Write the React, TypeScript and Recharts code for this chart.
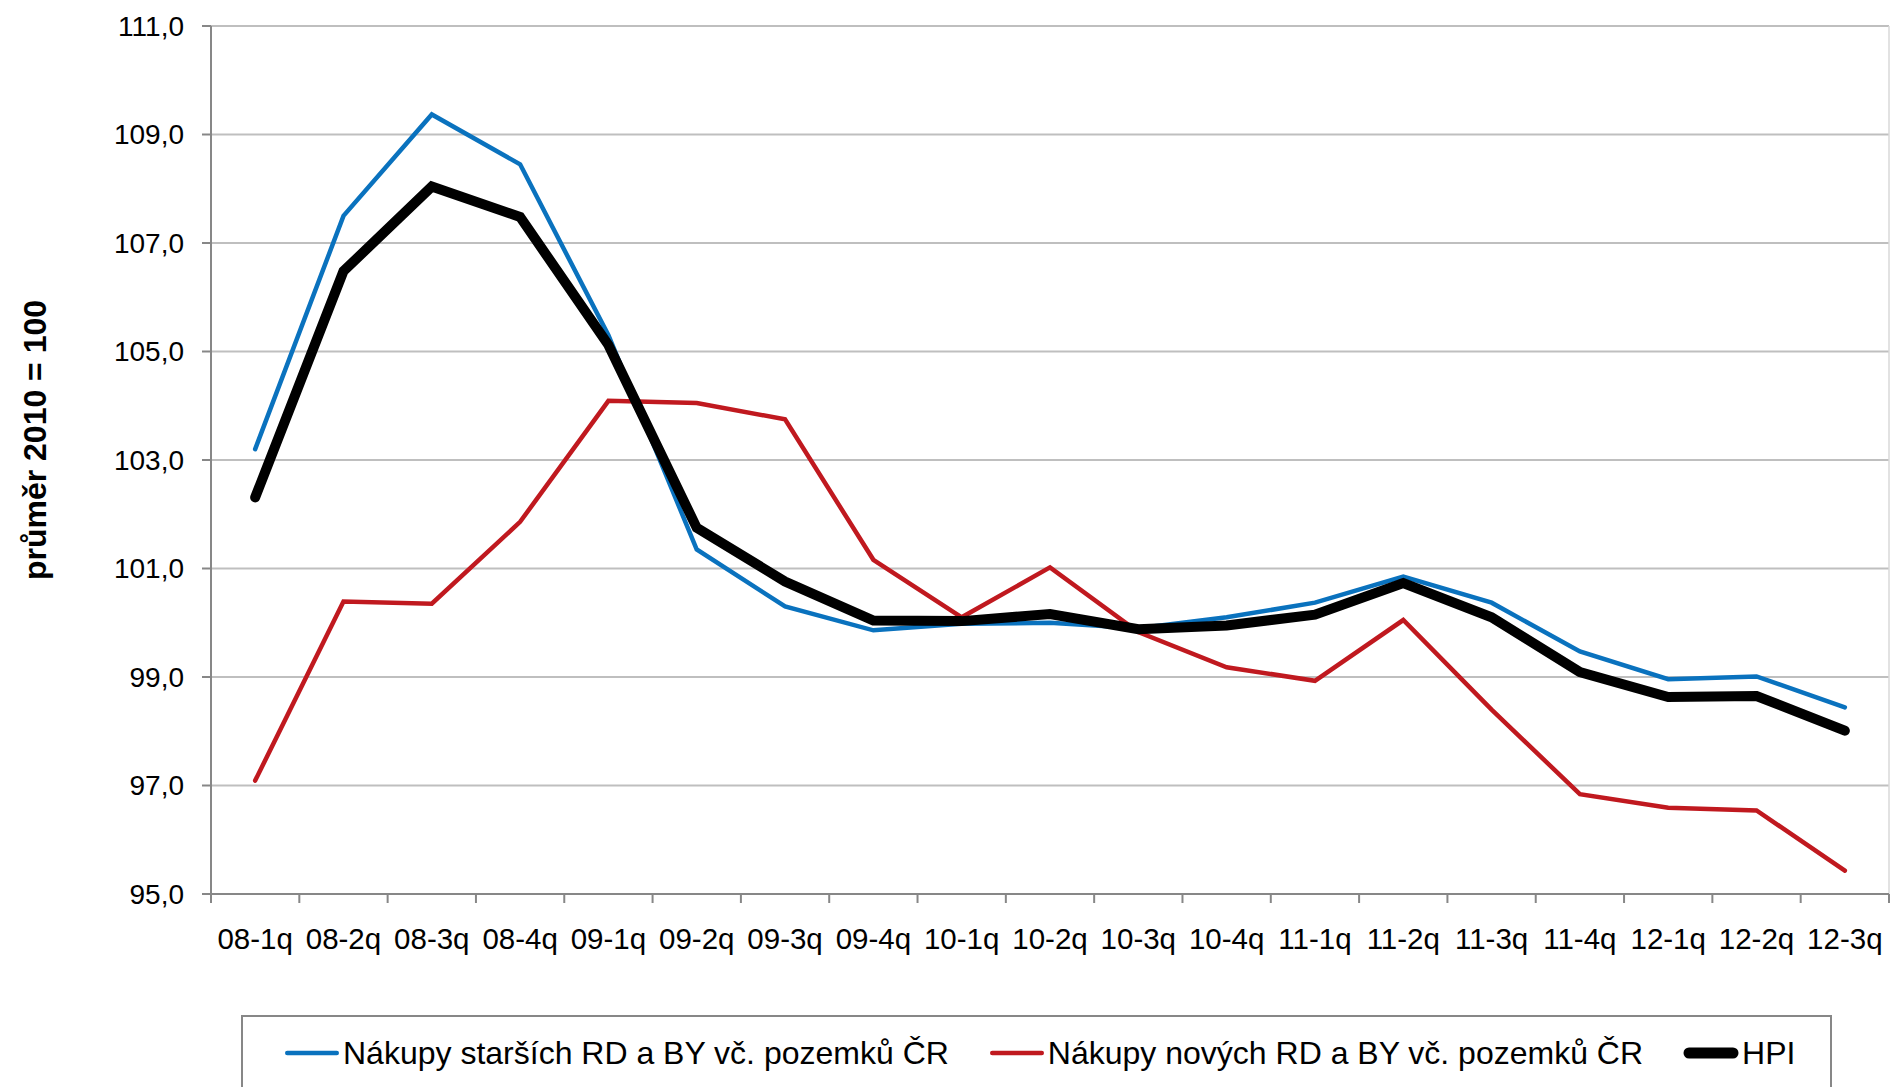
import React from "react";
import {
  CartesianGrid,
  Legend,
  Line,
  LineChart,
  XAxis,
  YAxis,
} from "recharts";

const quarters = [
  "08-1q", "08-2q", "08-3q", "08-4q",
  "09-1q", "09-2q", "09-3q", "09-4q",
  "10-1q", "10-2q", "10-3q", "10-4q",
  "11-1q", "11-2q", "11-3q", "11-4q",
  "12-1q", "12-2q", "12-3q",
];

// Nákupy starších RD a BY vč. pozemků ČR
const starsi = [
  103.2, 107.5, 109.37, 108.45, 105.3, 101.35, 100.3, 99.86, 99.98, 100.0,
  99.9, 100.1, 100.37, 100.85, 100.37, 99.47, 98.96, 99.01, 98.44,
];

// Nákupy nových RD a BY vč. pozemků ČR
const nove = [
  97.09, 100.39, 100.35, 101.86, 104.09, 104.05, 103.75, 101.16, 100.1, 101.02,
  99.83, 99.18, 98.93, 100.05, 98.4, 96.84, 96.59, 96.54, 95.43,
];

const hpi = [
  102.31, 106.48, 108.04, 107.48, 105.12, 101.75, 100.76, 100.04, 100.03,
  100.16, 99.88, 99.95, 100.15, 100.73, 100.1, 99.09, 98.63, 98.65, 98.01,
];

const yTicks = [95, 97, 99, 101, 103, 105, 107, 109, 111];

const seriesInfo = [
  { key: "starsi", name: "Nákupy starších RD a BY vč. pozemků ČR", color: "#0a72be", width: 4.5 },
  { key: "nove", name: "Nákupy nových RD a BY vč. pozemků ČR", color: "#c0191f", width: 4.5 },
  { key: "hpi", name: "HPI", color: "#000000", width: 10 },
];

const data = quarters.map((q, i) => ({
  q,
  starsi: starsi[i],
  nove: nove[i],
  hpi: hpi[i],
}));

const FONT = "'Liberation Sans', Arial, sans-serif";
const AXIS = "#878787";

function QuarterTick(props: any) {
  const { x, y, payload, index, visibleTicksCount } = props;
  const half = payload && payload.offset ? payload.offset : 0;
  return (
    <g>
      <line x1={x - half} x2={x - half} y1={y} y2={y + 9} stroke={AXIS} strokeWidth={2} />
      {index === visibleTicksCount - 1 && (
        <line x1={x + half} x2={x + half} y1={y} y2={y + 9} stroke={AXIS} strokeWidth={2} />
      )}
      <text
        x={x}
        y={y + 44}
        textAnchor="middle"
        dominantBaseline="central"
        fontSize={29.5}
        fontFamily={FONT}
        fill="#000"
      >
        {payload.value}
      </text>
    </g>
  );
}

function YLabel(props: any) {
  const vb = props.viewBox || { x: 0, y: 0, width: 0, height: 0 };
  const cx = 46;
  const cy = vb.y + vb.height / 2 - 20;
  return (
    <text
      x={cx}
      y={cy}
      transform={`rotate(-90, ${cx}, ${cy})`}
      textAnchor="middle"
      fontSize={32}
      fontWeight="bold"
      fontFamily={FONT}
      fill="#000"
    >
      průměr 2010 = 100
    </text>
  );
}

function LegendBox() {
  return (
    <div
      style={{
        boxSizing: "border-box",
        width: 1591,
        height: 72,
        border: "2px solid #878787",
        borderBottom: "none",
        display: "flex",
        alignItems: "flex-start",
        paddingLeft: 41,
        paddingTop: 14,
        fontFamily: FONT,
        fontSize: 32,
        color: "#000",
      }}
    >
      {seriesInfo.map((s, i) => (
        <div
          key={s.key}
          style={{ display: "flex", alignItems: "center", marginLeft: i === 0 ? 0 : 40, height: 44 }}
        >
          <svg width={56} height={16} style={{ marginRight: 3 }}>
            <line
              x1={s.width / 2 + 1}
              x2={55 - s.width / 2}
              y1={8}
              y2={8}
              stroke={s.color}
              strokeWidth={s.width === 10 ? 11 : 4.5}
              strokeLinecap="round"
            />
          </svg>
          <span style={{ whiteSpace: "nowrap" }}>{s.name}</span>
        </div>
      ))}
    </div>
  );
}

export default function App() {
  return (
    <div style={{ position: "absolute", left: 0, top: 0, width: 1890, height: 1087, background: "#fff", overflow: "hidden", fontFamily: FONT }}>
      <LineChart
        width={1890}
        height={1087}
        data={data}
        margin={{ top: 26, right: 1, bottom: 133, left: 0 }}
      >
        <CartesianGrid horizontal vertical={false} stroke="#bfbfbf" strokeWidth={2} />
        <CartesianGrid
          horizontal={false}
          vertical
          stroke="#d9d9d9"
          strokeWidth={1.5}
          verticalCoordinatesGenerator={({ offset }: any) => [offset.left + offset.width]}
        />
        <XAxis
          dataKey="q"
          scale="band"
          height={60}
          interval={0}
          tickSize={0}
          tickMargin={0}
          tickLine={false}
          axisLine={{ stroke: AXIS, strokeWidth: 2 }}
          tick={<QuarterTick />}
        />
        <YAxis
          width={211}
          domain={[95, 111]}
          ticks={yTicks}
          interval={0}
          allowDataOverflow
          tickSize={9}
          tickMargin={18}
          tickLine={{ stroke: AXIS, strokeWidth: 2 }}
          axisLine={{ stroke: AXIS, strokeWidth: 2 }}
          tick={{ fontSize: 28, fill: "#000", fontFamily: FONT }}
          tickFormatter={(v: number) => v.toFixed(1).replace(".", ",")}
          label={{ content: <YLabel /> }}
        />
        <Legend
          layout="horizontal"
          verticalAlign="middle"
          align="center"
          wrapperStyle={{ position: "absolute", top: 1015, left: 241, width: 1591, height: 72 }}
          content={() => <LegendBox />}
        />
        {seriesInfo.map((s) => (
          <Line
            key={s.key}
            type="linear"
            dataKey={s.key}
            name={s.name}
            stroke={s.color}
            strokeWidth={s.width}
            strokeLinecap="round"
            dot={false}
            activeDot={false}
            isAnimationActive={false}
          />
        ))}
      </LineChart>
    </div>
  );
}
